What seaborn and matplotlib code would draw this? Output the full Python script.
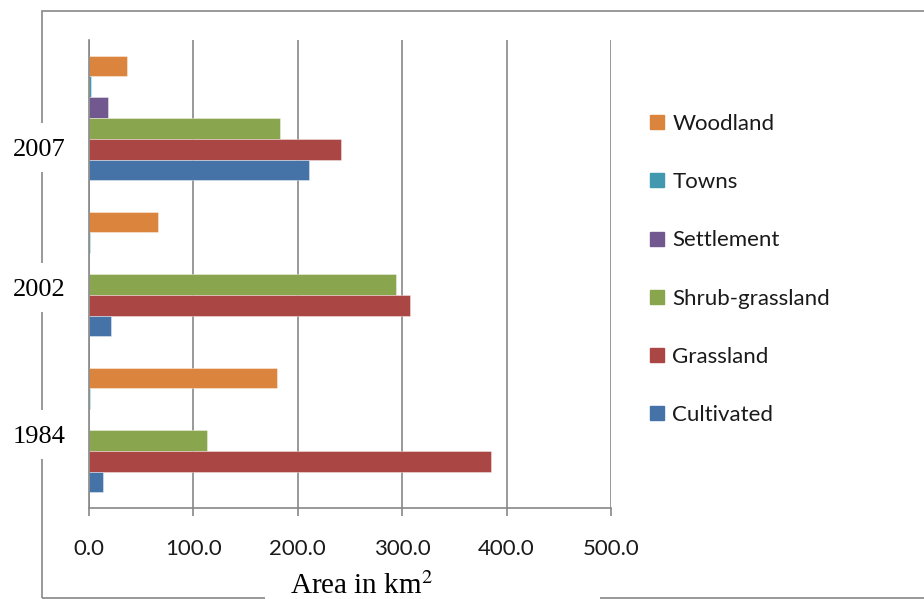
import matplotlib
matplotlib.use("Agg")
import matplotlib.pyplot as plt
import numpy as np
import pandas as pd
import seaborn as sns
from matplotlib.patches import Rectangle
from matplotlib.lines import Line2D

# Land-cover area (km²) per survey year
years = ["2007", "2002", "1984"]
classes = ["Woodland", "Towns", "Settlement", "Shrub-grassland", "Grassland", "Cultivated"]
woodland = [36.5, 66.5, 180.5]
towns = [2.2, 0.7, 0.7]
settlement = [18.5, 0.0, 0.0]
shrub_grassland = [183.0, 294.0, 113.0]
grassland = [241.0, 307.5, 385.5]
cultivated = [211.0, 21.0, 13.5]
x_ticks = [0, 100, 200, 300, 400, 500]
x_tick_labels = ["0.0", "100.0", "200.0", "300.0", "400.0", "500.0"]

palette = {
    "Woodland": "#DB843D",
    "Towns": "#4198AF",
    "Settlement": "#71588F",
    "Shrub-grassland": "#89A54E",
    "Grassland": "#AA4643",
    "Cultivated": "#4572A7",
}

series = [woodland, towns, settlement, shrub_grassland, grassland, cultivated]
df = pd.DataFrame(
    [(y, c, v[i]) for c, v in zip(classes, series) for i, y in enumerate(years)],
    columns=["year", "cover", "area"],
)

sns.set_theme(style="white")
plt.rcParams["font.family"] = ["Lato", "DejaVu Sans"]
plt.rcParams["mathtext.fontset"] = "stix"

W, H = 924, 599
fig = plt.figure(figsize=(W / 100, H / 100), dpi=100)
fig.patch.set_facecolor("white")

def fx(px):
    return px / W

def fy(py):
    return 1 - py / H

ax = fig.add_axes([fx(89), fy(508), fx(611) - fx(89), fy(40) - fy(508)])

sns.barplot(
    data=df, x="area", y="year", hue="cover",
    order=years, hue_order=classes, palette=palette,
    orient="h", width=0.8, legend=False, ax=ax,
    edgecolor=(1, 1, 1, 0.45), linewidth=0.6, saturation=1,
)

grid_color = "#878787"
ax.set_xlim(0, 500)
ax.set_ylim(2.5, -0.5)
ax.set_xticks(x_ticks)
ax.set_xticklabels(x_tick_labels, fontsize=16, color="#1a1a1a")
ax.set_yticks([])
ax.set_xlabel("")
ax.set_ylabel("")
ax.xaxis.grid(True, color=grid_color, linewidth=1.2)
ax.set_axisbelow(True)
for side in ["top", "right"]:
    ax.spines[side].set_visible(False)
for side in ["left", "bottom"]:
    ax.spines[side].set_color(grid_color)
    ax.spines[side].set_linewidth(1.2)
ax.tick_params(axis="x", direction="out", length=6, width=1.2,
               color=grid_color, pad=16, bottom=True)

# Chart-area border
border = Rectangle((fx(42), fy(598)), fx(940) - fx(42), fy(11) - fy(598),
                   transform=fig.transFigure, fill=False,
                   edgecolor=grid_color, linewidth=1.2, zorder=1)
fig.patches.append(border)

# Year labels sitting on the border
year_label_y = {"2007": 150, "2002": 290, "1984": 437}
for yr, py in year_label_y.items():
    fig.patches.append(Rectangle((fx(5), fy(py + 22)), fx(70) - fx(5), fy(py - 27) - fy(py + 22),
                                 transform=fig.transFigure, facecolor="white",
                                 edgecolor="none", zorder=2))
    fig.text(fx(39), fy(py), yr, ha="center", va="center", fontsize=19,
             family=["Liberation Serif", "DejaVu Serif"], color="black", zorder=3)

# Axis title on the bottom border
fig.patches.append(Rectangle((fx(265), fy(599)), fx(600) - fx(265), fy(565) - fy(599),
                             transform=fig.transFigure, facecolor="white",
                             edgecolor="none", zorder=2))
fig.text(fx(362), fy(586), r"Area in km$^{2}$", ha="center", va="center",
         fontsize=21, family=["Liberation Serif", "DejaVu Serif"], color="black", zorder=3)

# Legend
handles = [Line2D([], [], marker="s", linestyle="none", markersize=9.5,
                  markerfacecolor=palette[c], markeredgecolor=palette[c]) for c in classes]
fig.legend(handles, classes, loc="upper left", bbox_to_anchor=(fx(650), fy(114)),
           frameon=False, fontsize=16, handlelength=0.62, handletextpad=0.38,
           labelspacing=1.72, borderpad=0, borderaxespad=0,
           labelcolor="#1a1a1a")

fig.savefig("out.png", dpi=100, facecolor="white")
